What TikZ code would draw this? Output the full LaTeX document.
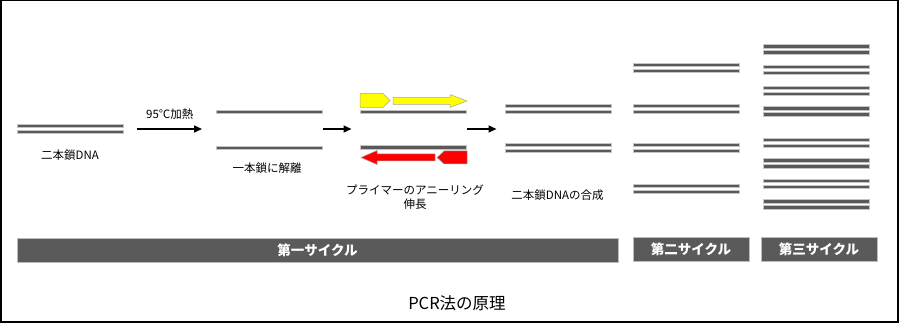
\documentclass[tikz,border=0pt]{standalone}
\usepackage{fontspec}
\setmainfont{Noto Sans CJK JP}
\usetikzlibrary{arrows.meta,positioning}
\definecolor{strandgray}{HTML}{595959}
\definecolor{primeryellow}{HTML}{FFFF00}
\definecolor{primerred}{HTML}{FF0000}
\definecolor{cyclegray}{HTML}{5A5A5A}
\newcommand{\duplex}[3]{%
  \node[strand] (#1a) at (#2,#3) {};
  \node[strand, below=2.3pt of #1a] (#1b) {};}

\begin{document}
\begin{tikzpicture}[
  x=1pt, y=-1pt,
  font=\fontsize{11.5}{14}\selectfont,
  >={Triangle[length=8pt,width=7pt]},
  strand/.style={
    fill=strandgray,
    draw=strandgray!35,
    line width=0.5pt,
    minimum width=106pt,
    minimum height=3.5pt,
    inner sep=0pt,
    outer sep=0pt
  },
  steparrow/.style={->, line width=1.5pt},
  steptext/.style={inner sep=0pt, align=center},
  cyclebar/.style={
    fill=cyclegray,
    draw=cyclegray!40,
    line width=0.6pt,
    minimum height=24pt,
    inner sep=0pt,
    text=white,
    font=\fontsize{13.5}{15}\selectfont\bfseries
  },
  primer/.style={draw=gray!70, line width=0.5pt}
]
  \useasboundingbox (0,0) rectangle (900,323);
  \draw[line width=1.5pt] (1,0.75) rectangle (898,322);

  % --- FIRST CYCLE: double strand, melting, annealing, synthesis ---
  \duplex{dsA}{70.5}{126}
  \node[steptext] (dsAtext) at (70,155) {二本鎖DNA};

  \node[strand] (ssTop) at (269,112) {};
  \node[strand] (ssBot) at (269,148) {};
  \node[steptext] (sstext) at (267,168) {一本鎖に解離};

  \node[strand] (prTop) at (413.5,112) {};
  \node[strand] (prBot) at (413.5,147.5) {};
  \node[steptext] (prtext) at (415,197.5) {プライマーのアニーリング\\伸長};

  \duplex{dsB}{558.5}{106}
  \duplex{dsC}{558.5}{145}
  \node[steptext] (dsBtext) at (557.5,195) {二本鎖DNAの合成};

  % Primers and extension (yellow forward, red reverse)
  \draw[primer, fill=primeryellow] (360,93.5) -- (383,93.5) -- (390,100.5) -- (383,107.5) -- (360,107.5) -- cycle;
  \draw[primer, fill=primeryellow] (393,97.5) -- (450,97.5) -- (450,94.5) -- (467,101) -- (450,107.5) -- (450,104.5) -- (393,104.5) -- cycle;
  \draw[primer, fill=primerred] (444,151) -- (467,151) -- (467,164) -- (444,164) -- (437,157.5) -- cycle;
  \draw[primer, fill=primerred] (435,154) -- (377,154) -- (377,150.5) -- (361,157.5) -- (377,164.5) -- (377,161) -- (435,161) -- cycle;

  % Step arrows
  \coordinate (mid) at (0,129);
  \draw[steparrow, shorten <=13pt, shorten >=14pt] (dsAa.east |- mid) -- (ssTop.west |- mid)
    node[midway, above=9pt, steptext] (heat) {95℃加熱};
  \draw[steparrow, shorten <=1pt, shorten >=9pt] (ssTop.east |- mid) -- (prTop.west |- mid);
  \draw[steparrow, shorten >=9pt] (prTop.east |- mid) -- (dsBa.west |- mid);

  % --- SECOND AND THIRD CYCLES ---
  \foreach \y [count=\i] in {65,106,145,186}{
    \duplex{cyc2d\i}{686}{\y}
  }
  \foreach \y [count=\i] in {46.5,67,88,108.5,140,160.5,181,201.5}{
    \duplex{cyc3d\i}{816}{\y}
  }

  % Cycle bars
  \node[cyclebar, minimum width=601pt] (bar1) at (317.5,250) {第一サイクル};
  \node[cyclebar, minimum width=116pt] (bar2) at (691,249) {第二サイクル};
  \node[cyclebar, minimum width=116pt] (bar3) at (819,249) {第三サイクル};

  % Title
  \node[steptext, font=\fontsize{16.5}{18}\selectfont] (title) at (457,303) {PCR法の原理};
\end{tikzpicture}
\end{document}
